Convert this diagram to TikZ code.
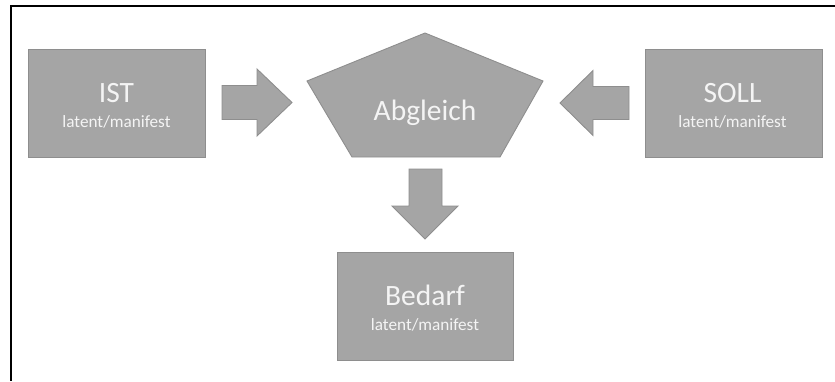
\documentclass[tikz,border=0pt]{standalone}
\usepackage{fontspec}
\setmainfont{Carlito}
\definecolor{boxfill}{HTML}{A5A5A5}
\definecolor{boxline}{HTML}{8E8E8E}
\definecolor{txt}{HTML}{F4F4F4}
\begin{document}
\begin{tikzpicture}[x=1pt,y=-1pt,
  shapestyle/.style={fill=boxfill,draw=boxline,line width=0.9pt,line join=miter},
  boxnode/.style={shapestyle,rectangle,minimum width=177pt,minimum height=108pt,inner sep=0pt},
  bigtext/.style={text=txt,font=\fontsize{29.5}{32}\selectfont,anchor=base,inner sep=0pt},
  smalltext/.style={text=txt,font=\fontsize{17.2}{19}\selectfont,anchor=base,inner sep=0pt}]
\useasboundingbox (0,0) rectangle (835,381);
% frame (top and left edges)
\coordinate (fTR) at (835,6);
\coordinate (fTL) at (11,6);
\coordinate (fBL) at (11,381);
\draw[line width=2pt,black] (fTR) -- (fTL) -- (fBL);
% boxes
\node[boxnode] (ist) at (117,103) {};
\node[boxnode] (soll) at (733.5,103) {};
\node[boxnode,minimum width=176pt] (bedarf) at (425,306) {};
\node[bigtext] (istT) at (116.5,102.5) {IST};
\node[smalltext] (istS) at (116.5,127) {latent/manifest};
\node[bigtext] (sollT) at (732.5,102.5) {SOLL};
\node[smalltext] (sollS) at (732.5,127) {latent/manifest};
\node[bigtext] (bedT) at (425,305) {Bedarf};
\node[smalltext] (bedS) at (425,330) {latent/manifest};
% pentagon
\coordinate (pT) at (425,33);
\coordinate (pR) at (543,81);
\coordinate (pBR) at (500,157);
\coordinate (pBL) at (352,157);
\coordinate (pL) at (307,81);
\draw[shapestyle] (pT) -- (pR) -- (pBR) -- (pBL) -- (pL) -- cycle;
\node[bigtext] (abg) at (425,120) {Abgleich};
% right block arrow
\draw[shapestyle] (222,85.5) -- (257,85.5) -- (257,69) -- (292,102.5) -- (257,136) -- (257,119.5) -- (222,119.5) -- cycle;
% left block arrow
\draw[shapestyle] (629,86.5) -- (593,86.5) -- (593,70.5) -- (560,103) -- (593,135.5) -- (593,119.5) -- (629,119.5) -- cycle;
% down block arrow
\draw[shapestyle] (409,169) -- (442,169) -- (442,206) -- (458,206) -- (425,239) -- (392,206) -- (409,206) -- cycle;
\end{tikzpicture}
\end{document}
